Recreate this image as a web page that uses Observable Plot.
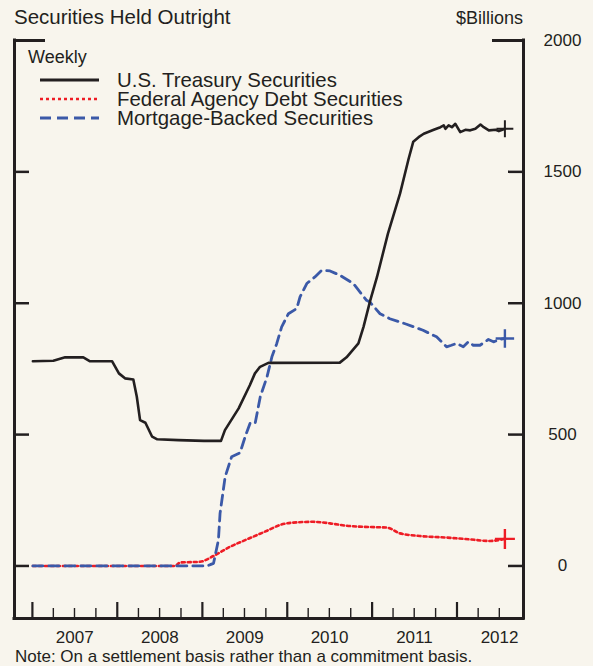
<!DOCTYPE html>
<html><head><meta charset="utf-8">
<script src="https://cdn.jsdelivr.net/npm/d3@7"></script>
<script src="https://cdn.jsdelivr.net/npm/@observablehq/plot@0.6"></script>
<style>
html,body{margin:0;padding:0;background:#f8f5ed;}
#chart{width:593px;height:666px;}
</style></head><body><div id="chart"></div>
<script>
// ---- data ($ billions, weekly) ----
const treasuryDates = ["2007-01-03","2007-04-01","2007-05-22","2007-08-08","2007-09-06","2007-12-10","2008-01-08","2008-02-03","2008-03-10","2008-03-25","2008-04-08","2008-05-01","2008-05-30","2008-06-21","2008-09-20","2009-01-08","2009-03-22","2009-04-08","2009-06-06","2009-07-24","2009-08-15","2009-09-06","2009-10-12","2010-08-15","2010-09-13","2010-11-03","2010-11-25","2010-12-24","2011-01-22","2011-03-10","2011-05-01","2011-06-07","2011-06-27","2011-07-20","2011-08-11","2011-09-23","2011-10-22","2011-11-05","2011-11-12","2011-11-26","2011-12-10","2011-12-25","2012-01-15","2012-02-06","2012-02-27","2012-03-20","2012-04-11","2012-04-25","2012-05-17","2012-06-15","2012-06-29","2012-07-25"];
const treasuryValues = [779,781,794,794,779,779,733,714,710,644,555,545,492,482,479,476,476,517,600,688,733,758,773,774,794,847,910,1011,1100,1265,1417,1550,1615,1632,1645,1660,1670,1677,1664,1677,1670,1683,1651,1660,1658,1664,1680,1670,1658,1660,1655,1664];

const agencyDates = ["2007-01-03","2008-09-05","2008-09-27","2008-12-22","2009-02-18","2009-04-30","2009-07-11","2009-10-06","2009-12-01","2010-02-11","2010-04-23","2010-07-04","2010-09-13","2010-11-25","2011-03-05","2011-05-01","2011-07-25","2011-11-17","2012-02-26","2012-05-22","2012-07-25"];
const agencyValues = [0,0,13,16,38,73,101,134,156,166,168,162,153,149,146,124,114,108,101,95,103];

const mbsDates = ["2007-01-03","2009-01-20","2009-02-04","2009-02-18","2009-03-11","2009-03-18","2009-04-09","2009-05-07","2009-06-12","2009-07-04","2009-07-25","2009-08-16","2009-09-07","2009-10-06","2009-10-27","2009-11-17","2009-12-08","2010-01-06","2010-02-11","2010-02-25","2010-03-26","2010-04-30","2010-05-29","2010-07-04","2010-08-16","2010-10-12","2010-12-08","2010-12-22","2011-02-04","2011-03-18","2011-05-29","2011-08-08","2011-10-05","2011-11-17","2011-12-08","2011-12-30","2012-01-28","2012-02-19","2012-03-11","2012-04-09","2012-05-15","2012-06-06","2012-07-04","2012-07-25"];
const mbsValues = [0,0,5,10,99,200,340,416,431,492,543,543,644,720,796,847,910,960,980,1024,1075,1100,1125,1123,1106,1075,1011,1005,960,941,920,897,872,834,840,847,834,853,840,840,862,853,862,866];

const seriesNames = ["U.S. Treasury Securities","Federal Agency Debt Securities","Mortgage-Backed Securities"];
const yearTicks = ["2007-01-01","2008-01-01","2009-01-01","2010-01-01","2011-01-01","2012-01-01"];
const quarterTicks = ["2007-04-01","2007-07-01","2007-10-01","2008-04-01","2008-07-01","2008-10-01","2009-04-01","2009-07-01","2009-10-01","2010-04-01","2010-07-01","2010-10-01","2011-04-01","2011-07-01","2011-10-01","2012-04-01","2012-07-01"];
const yearLabels = ["2007","2008","2009","2010","2011","2012"];
const yearLabelDates = ["2007-07-02","2008-07-02","2009-07-02","2010-07-02","2011-07-02","2012-07-02"];
const valueTicks = [0,500,1000,1500];
const valueLabels = [0,500,1000,1500,2000];
const xDomain = ["2006-10-16","2012-10-13"];
const yDomain = [-200,2000];

// ---- styles ----
const INK = "#231f20", RED = "#ee1c25", BLUE = "#3b59a8", BG = "#f8f5ed";
const FONT = "'Liberation Sans', Arial, Helvetica, sans-serif";
const W = 593, H = 666, mL = 14, mR = 70, mT = 40, mB = 48;
const frameW = W - mL - mR, frameH = H - mT - mB;

const parse = d3.utcParse("%Y-%m-%d");
const rows = (ds, vs) => ds.map((d, i) => ({date: parse(d), value: vs[i]}));
const treasury = rows(treasuryDates, treasuryValues);
const agency = rows(agencyDates, agencyValues);
const mbs = rows(mbsDates, mbsValues);
const last = a => [a[a.length - 1]];

const plot = Plot.plot({
  width: W, height: H,
  marginLeft: mL, marginRight: mR, marginTop: mT, marginBottom: mB,
  style: {background: BG, fontFamily: FONT, overflow: "visible", color: INK},
  x: {type: "utc", domain: xDomain.map(parse), axis: null},
  y: {domain: yDomain, axis: null},
  marks: [
    // frame (open top with corner stubs)
    Plot.ruleX(xDomain.map(parse), {stroke: INK, strokeWidth: 3, strokeLinecap: "square"}),
    Plot.ruleY([yDomain[0]], {stroke: INK, strokeWidth: 3, strokeLinecap: "square"}),
    Plot.tickY([yDomain[1]], {stroke: INK, strokeWidth: 3, insetRight: frameW - 31}),
    Plot.tickY([yDomain[1]], {stroke: INK, strokeWidth: 3, insetLeft: frameW - 31}),
    // value ticks on both sides (inward)
    Plot.tickY(valueTicks, {stroke: INK, strokeWidth: 2.5, insetRight: frameW - 15}),
    Plot.tickY(valueTicks, {stroke: INK, strokeWidth: 2.5, insetLeft: frameW - 15}),
    // time ticks (inward from bottom)
    Plot.tickX(yearTicks.map(parse), {stroke: INK, strokeWidth: 2.2, insetTop: frameH - 16}),
    Plot.tickX(quarterTicks.map(parse), {stroke: INK, strokeWidth: 1.4, insetTop: frameH - 10}),
    // series
    Plot.line(agency, {x: "date", y: "value", stroke: RED, strokeWidth: 2.6, strokeDasharray: "3,3", curve: "monotone-x"}),
    Plot.line(mbs, {x: "date", y: "value", stroke: BLUE, strokeWidth: 2.8, strokeDasharray: "10,6"}),
    Plot.line(treasury, {x: "date", y: "value", stroke: INK, strokeWidth: 2.6, strokeLinejoin: "round"}),
    Plot.dot(last(agency), {x: "date", y: "value", symbol: "plus", r: 6.5, stroke: RED, strokeWidth: 2.4}),
    Plot.dot(last(mbs), {x: "date", y: "value", symbol: "plus", r: 6, stroke: BLUE, strokeWidth: 2.4}),
    Plot.dot(last(treasury), {x: "date", y: "value", symbol: "plus", r: 5.5, stroke: INK, strokeWidth: 2}),
    // axis labels
    Plot.text(valueLabels, {y: d => d, text: d => String(d), frameAnchor: "right", dx: 39, textAnchor: "middle", fontSize: 17, fill: INK}),
    Plot.text(yearLabels, {x: (d, i) => parse(yearLabelDates[i]), text: d => d, frameAnchor: "bottom", dy: 19, lineAnchor: "middle", fontSize: 17, fill: INK})
  ]
});

const svg = d3.select(plot);
const addText = (x, y, t, size, anchor = "start") =>
  svg.append("text").attr("x", x).attr("y", y).attr("font-size", size)
     .attr("font-family", FONT).attr("fill", INK).attr("text-anchor", anchor).text(t);

addText(14, 24, "Securities Held Outright", 20.5);
addText(523, 24, "$Billions", 18, "end");
addText(28, 63, "Weekly", 18);
addText(15, 662, "Note: On a settlement basis rather than a commitment basis.", 17);

const legendStyles = [
  {stroke: INK, dash: null, width: 3},
  {stroke: RED, dash: "3,3", width: 2.6},
  {stroke: BLUE, dash: "11,6", width: 3}
];
const legendY = [80, 99, 118];
seriesNames.forEach((name, i) => {
  const s = legendStyles[i];
  const ln = svg.append("line").attr("x1", 40).attr("x2", 99)
    .attr("y1", legendY[i]).attr("y2", legendY[i])
    .attr("stroke", s.stroke).attr("stroke-width", s.width);
  if (s.dash) ln.attr("stroke-dasharray", s.dash);
  addText(117, legendY[i] + 7, name, 20.4);
});

document.getElementById("chart").appendChild(plot);
</script>
</body></html>
